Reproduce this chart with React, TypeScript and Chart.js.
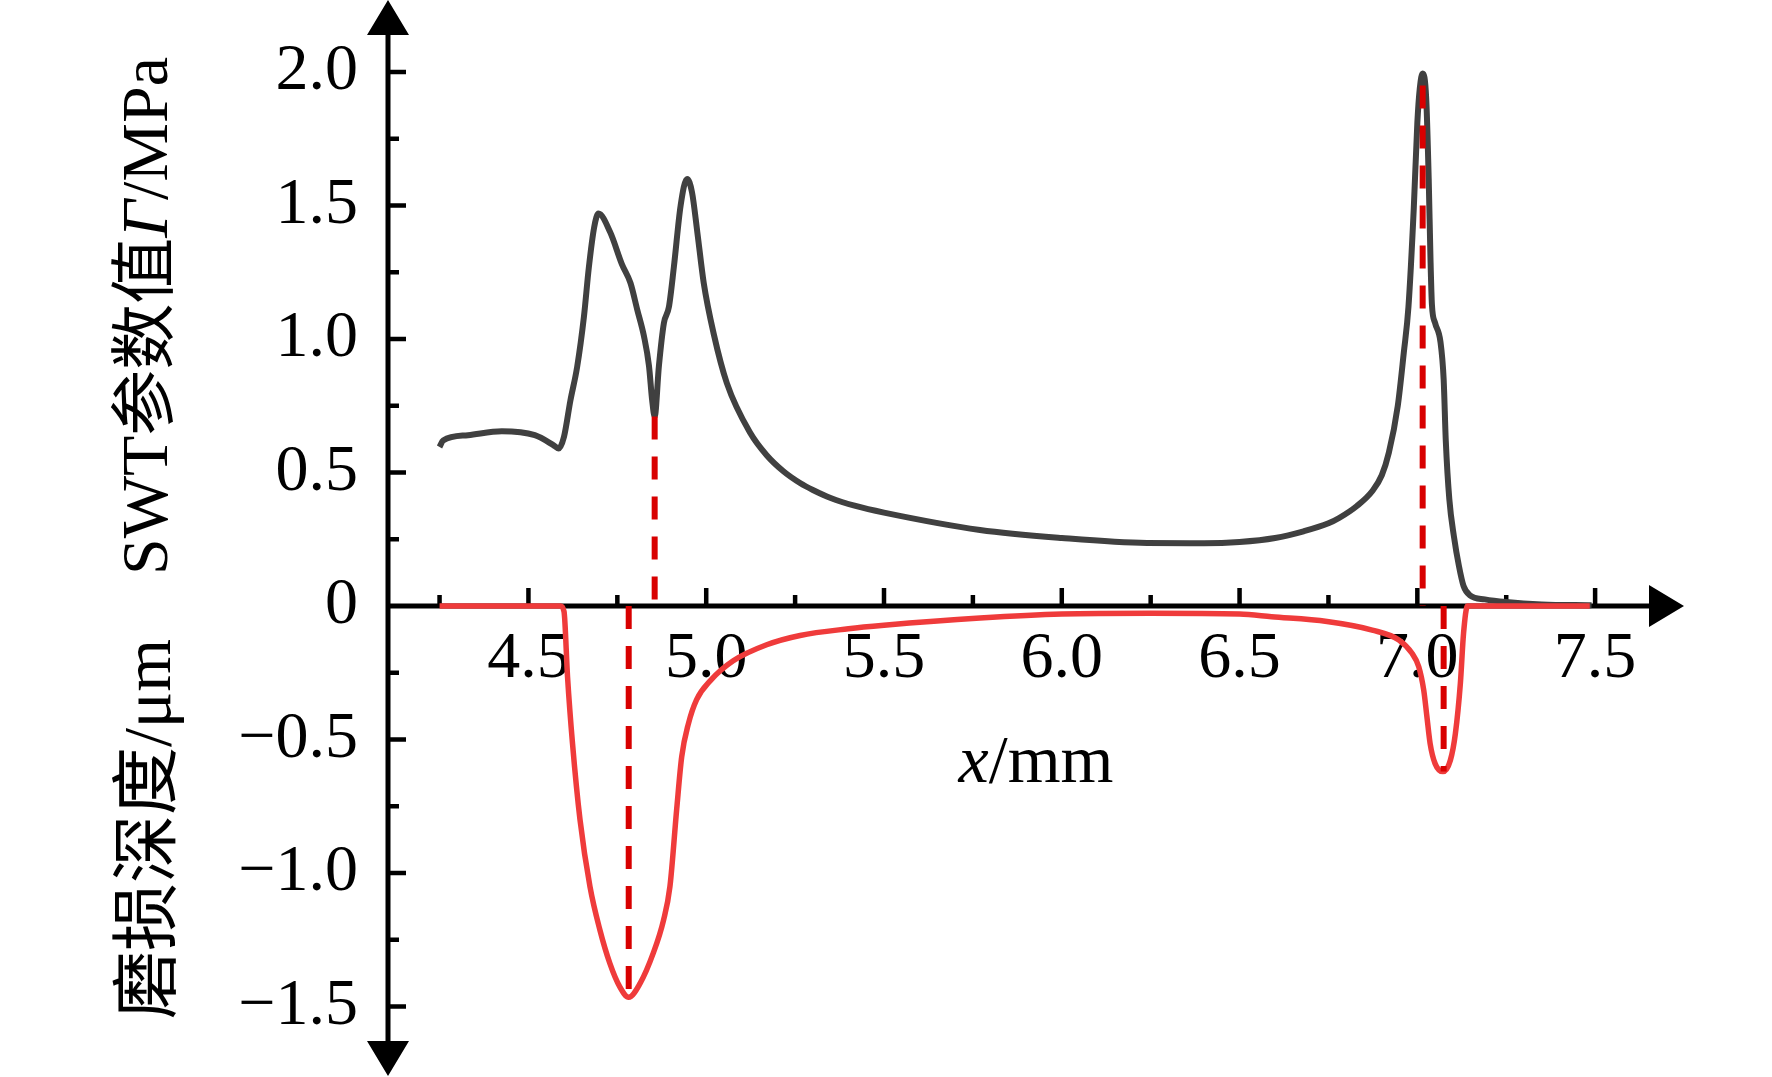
import React, { useEffect, useRef } from "react";
import { Chart, registerables } from "chart.js";

Chart.register(...registerables);

const FONT = '"Liberation Serif", "Times New Roman", "Noto Sans CJK SC", serif';

// SWT parameter value (MPa), black curve
const swtX = [
  4.25, 4.26, 4.33, 4.425, 4.518, 4.57, 4.585, 4.6, 4.618, 4.637, 4.656, 4.67, 4.685, 4.697,
  4.73, 4.763, 4.787, 4.806, 4.825, 4.839, 4.848, 4.855, 4.867, 4.881, 4.895, 4.909, 4.928,
  4.946, 4.96, 4.975, 4.993, 5.021, 5.058, 5.124, 5.17, 5.217, 5.265, 5.3, 5.35, 5.42, 5.5,
  5.77, 6.0, 6.24, 6.4, 6.5, 6.6, 6.68, 6.75, 6.78, 6.83, 6.873, 6.9, 6.92, 6.945, 6.962,
  6.975, 6.99, 7.0, 7.007, 7.015, 7.025, 7.032, 7.037, 7.041, 7.05, 7.065, 7.074, 7.08, 7.09,
  7.103, 7.117, 7.13, 7.148, 7.19, 7.25, 7.35, 7.49,
];
const swtY = [
  0.596, 0.62, 0.64, 0.655, 0.64, 0.603, 0.59, 0.634, 0.77, 0.896, 1.083, 1.27, 1.42, 1.47,
  1.4, 1.28, 1.21, 1.11, 1.01, 0.9, 0.77, 0.71, 0.9, 1.06, 1.12, 1.27, 1.5,
  1.6, 1.55, 1.4, 1.21, 1.02, 0.835, 0.648, 0.565, 0.505, 0.46, 0.435, 0.405, 0.375, 0.35,
  0.285, 0.255, 0.236, 0.235, 0.24, 0.255, 0.28, 0.31, 0.33, 0.375, 0.43, 0.49, 0.575, 0.75, 0.95,
  1.12, 1.49, 1.81, 1.94, 1.995, 1.9, 1.6, 1.3, 1.13, 1.06, 0.99, 0.85, 0.62, 0.4,
  0.26, 0.15, 0.075, 0.04, 0.025, 0.015, 0.006, 0.003,
];

// wear depth (um), red curve
const wearX = [
  4.25, 4.59, 4.6, 4.61, 4.624, 4.645, 4.673, 4.701, 4.729, 4.757, 4.782, 4.814, 4.851, 4.88,
  4.898, 4.917, 4.931, 4.95, 4.973, 5.011, 5.076, 5.17, 5.264, 5.4, 5.5, 5.77, 6.0, 6.25,
  6.5, 6.59, 6.746, 6.873, 6.948, 6.985, 7.004, 7.018, 7.027, 7.036, 7.05, 7.072, 7.093, 7.107,
  7.121, 7.13, 7.141, 7.485,
];
const wearY = [
  0, 0, -0.02, -0.266, -0.516, -0.8, -1.05, -1.213, -1.338, -1.426, -1.465, -1.413, -1.3, -1.176,
  -1.05, -0.76, -0.565, -0.44, -0.35, -0.28, -0.205, -0.145, -0.11, -0.085, -0.072, -0.045, -0.03,
  -0.027, -0.03, -0.04, -0.058, -0.09, -0.127, -0.177, -0.227, -0.315, -0.415, -0.515, -0.59,
  -0.62, -0.577, -0.478, -0.29, -0.102, 0, 0,
];

// dashed marker lines
const markX = [4.855, 4.782, 7.015, 7.074];
const markFrom = [0.71, 0, 1.95, 0];
const markTo = [0, -1.465, 0, -0.62];

const xTickValues = [
  4.25, 4.5, 4.75, 5.0, 5.25, 5.5, 5.75, 6.0, 6.25, 6.5, 6.75, 7.0, 7.25, 7.5,
];
const yTickValues = [
  -1.5, -1.25, -1.0, -0.75, -0.5, -0.25, 0.25, 0.5, 0.75, 1.0, 1.25, 1.5, 1.75, 2.0,
];

const fmtY = (v: number) => {
  if (v === 0) return "0";
  return v < 0 ? "\u2212" + Math.abs(v).toFixed(1) : v.toFixed(1);
};

const arrowAxes = {
  id: "arrowAxes",
  beforeDatasetsDraw(chart: any) {
    const { ctx, chartArea, scales } = chart;
    const xs = scales.x;
    const ys = scales.y;
    const ax = chartArea.left;
    const ay = ys.getPixelForValue(0);
    const head = 35;
    const half = 21;
    ctx.save();
    ctx.strokeStyle = "#000";
    ctx.fillStyle = "#000";
    ctx.lineWidth = 5;
    ctx.beginPath();
    ctx.moveTo(ax, chartArea.top + head);
    ctx.lineTo(ax, chartArea.bottom - head);
    ctx.moveTo(ax, ay);
    ctx.lineTo(chartArea.right - head, ay);
    ctx.stroke();

    ctx.beginPath();
    ctx.moveTo(ax, chartArea.top);
    ctx.lineTo(ax - half, chartArea.top + head);
    ctx.lineTo(ax + half, chartArea.top + head);
    ctx.closePath();
    ctx.moveTo(ax, chartArea.bottom);
    ctx.lineTo(ax - half, chartArea.bottom - head);
    ctx.lineTo(ax + half, chartArea.bottom - head);
    ctx.closePath();
    ctx.moveTo(chartArea.right, ay);
    ctx.lineTo(chartArea.right - head, ay - half);
    ctx.lineTo(chartArea.right - head, ay + half);
    ctx.closePath();
    ctx.fill();

    ctx.lineWidth = 4.5;
    ctx.beginPath();
    yTickValues.forEach((v) => {
      const py = ys.getPixelForValue(v);
      const len = v % 0.5 === 0 ? 18 : 11;
      ctx.moveTo(ax, py);
      ctx.lineTo(ax + len, py);
    });
    xTickValues.forEach((v) => {
      const px = xs.getPixelForValue(v);
      const len = v % 0.5 === 0 ? 18 : 11;
      ctx.moveTo(px, ay);
      ctx.lineTo(px, ay - len);
    });
    ctx.stroke();
    ctx.restore();
  },
};

type Part = [string, boolean];

function drawParts(ctx: CanvasRenderingContext2D, parts: Part[], cx: number, cy: number, size: number, vertical: boolean, baseline: CanvasTextBaseline) {
  const fontOf = (italic: boolean) => `${italic ? "italic " : ""}${size}px ${FONT}`;
  let total = 0;
  parts.forEach(([t, it]) => {
    ctx.font = fontOf(it);
    total += ctx.measureText(t).width;
  });
  ctx.save();
  ctx.translate(cx, cy);
  if (vertical) ctx.rotate(-Math.PI / 2);
  ctx.fillStyle = "#000";
  ctx.textAlign = "left";
  ctx.textBaseline = baseline;
  let pos = -total / 2;
  parts.forEach(([t, it]) => {
    ctx.font = fontOf(it);
    ctx.fillText(t, pos, 0);
    pos += ctx.measureText(t).width;
  });
  ctx.restore();
}

const axisTitles = {
  id: "axisTitles",
  afterDraw(chart: any) {
    const { ctx, scales } = chart;
    const midX = (scales.x.left + scales.x.right) / 2;
    const ay = scales.y.getPixelForValue(0);
    drawParts(ctx, [["SWT参数值", false], ["Γ", true], ["/MPa", false]], 150, 316, 66, true, "middle");
    drawParts(ctx, [["磨损深度/μm", false]], 152, 829, 68, true, "middle");
    drawParts(ctx, [["x", true], ["/mm", false]], midX, ay + 176, 68, false, "alphabetic");
  },
};

const App: React.FC = () => {
  const canvasRef = useRef<HTMLCanvasElement>(null);

  useEffect(() => {
    let chart: Chart | null = null;
    if (canvasRef.current) {
      const markerSets = markX.map((mx, i) => ({
        data: [
          { x: mx, y: markFrom[i] },
          { x: mx, y: markTo[i] },
        ],
        borderColor: "#d80000",
        borderWidth: 6,
        borderDash: [23, 17],
        pointRadius: 0,
        order: 0,
      }));
      chart = new Chart(canvasRef.current, {
        type: "line",
        data: {
          datasets: [
            ...markerSets,
            {
              data: wearX.map((x, i) => ({ x, y: wearY[i] })),
              borderColor: "#ef3b3b",
              borderWidth: 5.5,
              pointRadius: 0,
              cubicInterpolationMode: "monotone",
              order: 1,
            },
            {
              data: swtX.map((x, i) => ({ x, y: swtY[i] })),
              borderColor: "#404040",
              borderWidth: 6,
              pointRadius: 0,
              cubicInterpolationMode: "monotone",
              order: 2,
            },
          ] as any,
        },
        options: {
          animation: false,
          responsive: true,
          maintainAspectRatio: false,
          layout: { padding: { left: 0, top: 0, right: 88, bottom: 1 } },
          plugins: {
            legend: { display: false },
            tooltip: { enabled: false },
          },
          scales: {
            x: {
              type: "linear",
              axis: "x",
              position: { y: 0 },
              min: 4.105,
              max: 7.75,
              afterFit: (s: any) => {
                s.height = 0;
                s.paddingLeft = 0;
                s.paddingRight = 0;
              },
              grid: { display: false, drawTicks: false },
              border: { display: false },
              ticks: {
                stepSize: 0.5,
                includeBounds: false,
                autoSkip: false,
                maxRotation: 0,
                padding: 21,
                color: "#000",
                font: { family: FONT, size: 66, lineHeight: 1 },
                callback: (v: any) => Number(v).toFixed(1),
              },
            },
            y: {
              type: "linear",
              position: "left",
              min: -1.76,
              max: 2.27,
              afterFit: (s: any) => {
                s.width = 388;
                s.paddingTop = 0;
                s.paddingBottom = 0;
              },
              grid: { display: false, drawTicks: false },
              border: { display: false },
              ticks: {
                stepSize: 0.5,
                includeBounds: false,
                autoSkip: false,
                padding: 30,
                color: "#000",
                font: { family: FONT, size: 66, lineHeight: 1 },
                callback: (v: any) => fmtY(Number(v)),
              },
            },
          } as any,
        },
        plugins: [arrowAxes, axisTitles],
      });
    }
    return () => {
      if (chart) chart.destroy();
    };
  }, []);

  return (
    <div style={{ position: "absolute", left: 0, top: 0, width: "1772px", height: "1077px", background: "#fff" }}>
      <canvas ref={canvasRef} />
    </div>
  );
};

export default App;
